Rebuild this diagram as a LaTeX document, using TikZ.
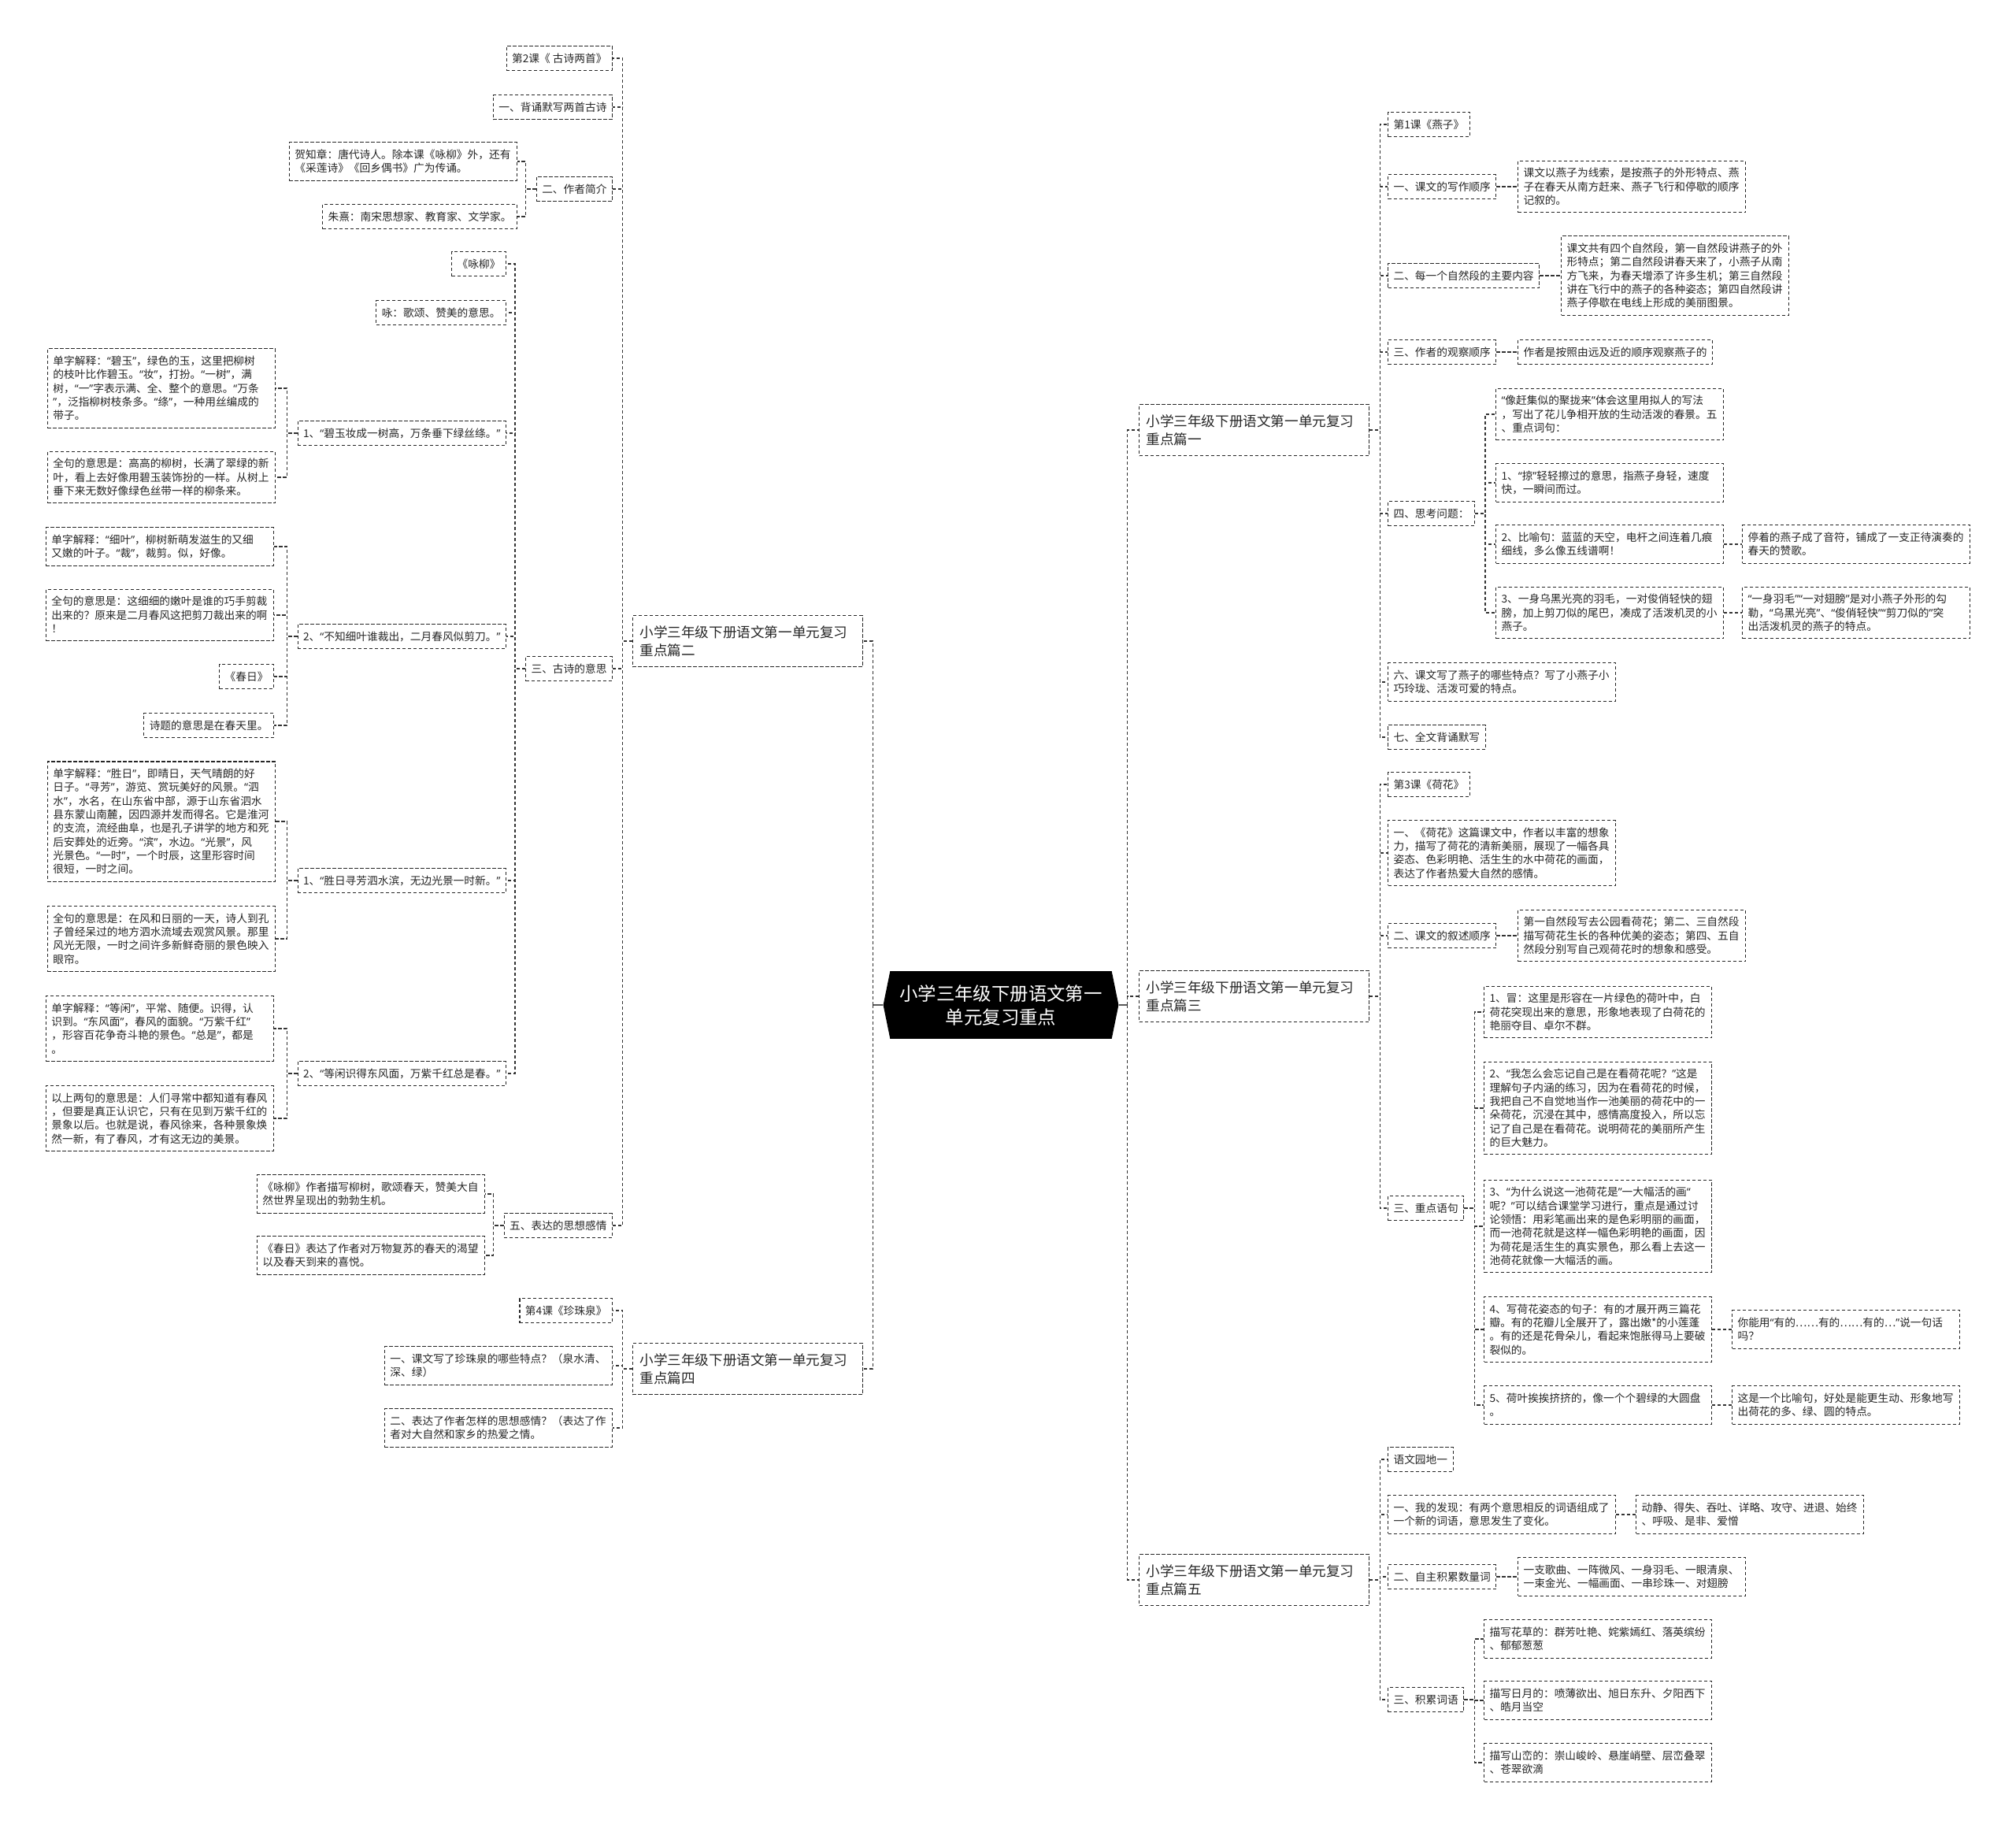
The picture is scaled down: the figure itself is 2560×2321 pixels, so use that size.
\documentclass[tikz,border=0pt]{standalone}
\usepackage{fontspec}
\newfontfamily\cjk{Noto Sans CJK SC}
\newfontfamily\latq{Noto Sans}
\usetikzlibrary{shapes.symbols}
\newcommand\ql{{\latq “}}
\newcommand\qr{{\latq ”}}
\newcommand\lsu{\rule[-3.45pt]{0pt}{17.3pt}}
\newcommand\hsu{\rule[-4.9pt]{0pt}{23.2pt}}

\begin{document}
\begin{tikzpicture}[x=1pt, y=-1pt,
  box/.style={draw=black!85, line width=1.1pt, dash pattern=on 4.3pt off 2.7pt, text=black!85},
  leaf/.style={box, inner xsep=7pt, inner ysep=6.85pt, font=\cjk\fontsize{13.7pt}{17.3pt}\selectfont, execute at begin node=\lsu, execute at end node=\lsu},
  wrap/.style={leaf, text width=275pt, align=left},
  head/.style={box, text width=274pt, align=left, inner xsep=9pt, inner ysep=9.3pt, font=\cjk\fontsize{17.6pt}{23.2pt}\selectfont, execute at begin node=\hsu, execute at end node=\hsu},
  hub/.style={signal, signal to=west and east, signal pointer angle=157, fill=black, text=white, align=center, inner xsep=12pt, inner ysep=17pt, font=\cjk\fontsize{23.4pt}{30pt}\selectfont},
  link/.style={draw=black!80, line width=1.1pt, dash pattern=on 4.3pt off 2.7pt},
  hublink/.style={draw=black!65, line width=2pt}]
  \fill[white] (0,0) rectangle (2560,2321);
  \useasboundingbox (0,0) rectangle (2560,2321);

  \node[hub] (root) at (1271,1276) {小学三年级下册语文第一\\单元复习重点};

  \node[head, anchor=east] (p2) at (1096,814) {小学三年级下册语文第一单元复习\\重点篇二};
  \node[head, anchor=east] (p4) at (1096,1738) {小学三年级下册语文第一单元复习\\重点篇四};
  \node[head, anchor=west] (p1) at (1446,546) {小学三年级下册语文第一单元复习\\重点篇一};
  \node[head, anchor=west] (p3) at (1446,1265) {小学三年级下册语文第一单元复习\\重点篇三};
  \node[head, anchor=west] (p5) at (1446,2006) {小学三年级下册语文第一单元复习\\重点篇五};

  % 篇二
  \node[leaf, anchor=east] (k2) at (778,74) {第2课《 古诗两首》};
  \node[leaf, anchor=east] (k2a) at (778,136) {一、背诵默写两首古诗};
  \node[leaf, anchor=east] (k2b) at (778,240) {二、作者简介};
  \node[wrap, anchor=east] (k2b1) at (657,205) {贺知章：唐代诗人。除本课《咏柳》外，还有\\《采莲诗》《回乡偶书》广为传诵。};
  \node[leaf, anchor=east] (k2b2) at (657,275) {朱熹：南宋思想家、教育家、文学家。};
  \node[leaf, anchor=east] (k2c) at (778,849) {三、古诗的意思};
  \node[leaf, anchor=east] (yl) at (643,335) {《咏柳》};
  \node[leaf, anchor=east] (yl0) at (643,397) {咏：歌颂、赞美的意思。};
  \node[leaf, anchor=east] (yl1) at (643,550) {1、\ql 碧玉妆成一树高，万条垂下绿丝绦。\qr};
  \node[wrap, anchor=east] (yl1a) at (350,493) {单字解释：\ql 碧玉\qr ，绿色的玉，这里把柳树\\的枝叶比作碧玉。\ql 妆\qr ，打扮。\ql 一树\qr ，满\\树，\ql 一\qr 字表示满、全、整个的意思。\ql 万条\\\qr ，泛指柳树枝条多。\ql 绦\qr ，一种用丝编成的\\带子。};
  \node[wrap, anchor=east] (yl1b) at (350,606) {全句的意思是：高高的柳树，长满了翠绿的新\\叶，看上去好像用碧玉装饰扮的一样。从树上\\垂下来无数好像绿色丝带一样的柳条来。};
  \node[leaf, anchor=east] (yl2) at (643,808) {2、\ql 不知细叶谁裁出，二月春风似剪刀。\qr};
  \node[wrap, anchor=east] (yl2a) at (348,694) {单字解释：\ql 细叶\qr ，柳树新萌发滋生的又细\\又嫩的叶子。\ql 裁\qr ，裁剪。似，好像。};
  \node[wrap, anchor=east] (yl2b) at (348,781) {全句的意思是：这细细的嫩叶是谁的巧手剪裁\\出来的？原来是二月春风这把剪刀裁出来的啊\\！};
  \node[leaf, anchor=east] (cr) at (348,859) {《春日》};
  \node[leaf, anchor=east] (cr0) at (348,921) {诗题的意思是在春天里。};
  \node[leaf, anchor=east] (cr1) at (643,1118) {1、\ql 胜日寻芳泗水滨，无边光景一时新。\qr};
  \node[wrap, anchor=east] (cr1a) at (350,1043) {单字解释：\ql 胜日\qr ，即晴日，天气晴朗的好\\日子。\ql 寻芳\qr ，游览、赏玩美好的风景。\ql 泗\\水\qr ，水名，在山东省中部，源于山东省泗水\\县东蒙山南麓，因四源并发而得名。它是淮河\\的支流，流经曲阜，也是孔子讲学的地方和死\\后安葬处的近旁。\ql 滨\qr ，水边。\ql 光景\qr ，风\\光景色。\ql 一时\qr ，一个时辰，这里形容时间\\很短，一时之间。};
  \node[wrap, anchor=east] (cr1b) at (350,1192) {全句的意思是：在风和日丽的一天，诗人到孔\\子曾经呆过的地方泗水流域去观赏风景。那里\\风光无限，一时之间许多新鲜奇丽的景色映入\\眼帘。};
  \node[leaf, anchor=east] (cr2) at (643,1363) {2、\ql 等闲识得东风面，万紫千红总是春。\qr};
  \node[wrap, anchor=east] (cr2a) at (348,1306) {单字解释：\ql 等闲\qr ，平常、随便。识得，认\\识到。\ql 东风面\qr ，春风的面貌。\ql 万紫千红\qr\\，形容百花争奇斗艳的景色。\ql 总是\qr ，都是\\。};
  \node[wrap, anchor=east] (cr2b) at (348,1420) {以上两句的意思是：人们寻常中都知道有春风\\，但要是真正认识它，只有在见到万紫千红的\\景象以后。也就是说，春风徐来，各种景象焕\\然一新，有了春风，才有这无边的美景。};
  \node[leaf, anchor=east] (k2e) at (778,1556) {五、表达的思想感情};
  \node[wrap, anchor=east] (k2e1) at (616,1516) {《咏柳》作者描写柳树，歌颂春天，赞美大自\\然世界呈现出的勃勃生机。};
  \node[wrap, anchor=east] (k2e2) at (616,1594) {《春日》表达了作者对万物复苏的春天的渴望\\以及春天到来的喜悦。};

  % 篇四
  \node[leaf, anchor=east] (k4) at (778,1664) {第4课《珍珠泉》};
  \node[wrap, anchor=east] (k4a) at (778,1734) {一、课文写了珍珠泉的哪些特点？（泉水清、\\深、绿）};
  \node[wrap, anchor=east] (k4b) at (778,1813) {二、表达了作者怎样的思想感情？（表达了作\\者对大自然和家乡的热爱之情。};

  % 篇一
  \node[leaf, anchor=west] (k1) at (1762,158) {第1课《燕子》};
  \node[leaf, anchor=west] (k1a) at (1762,237) {一、课文的写作顺序};
  \node[wrap, anchor=west] (k1a1) at (1927,237) {课文以燕子为线索，是按燕子的外形特点、燕\\子在春天从南方赶来、燕子飞行和停歇的顺序\\记叙的。};
  \node[leaf, anchor=west] (k1b) at (1762,350) {二、每一个自然段的主要内容};
  \node[wrap, anchor=west] (k1b1) at (1982,350) {课文共有四个自然段，第一自然段讲燕子的外\\形特点；第二自然段讲春天来了，小燕子从南\\方飞来，为春天增添了许多生机；第三自然段\\讲在飞行中的燕子的各种姿态；第四自然段讲\\燕子停歇在电线上形成的美丽图景。};
  \node[leaf, anchor=west] (k1c) at (1762,447) {三、作者的观察顺序};
  \node[leaf, anchor=west] (k1c1) at (1927,447) {作者是按照由远及近的顺序观察燕子的};
  \node[leaf, anchor=west] (k1d) at (1762,652) {四、思考问题：};
  \node[wrap, anchor=west] (k1d1) at (1899,526) {\ql 像赶集似的聚拢来\qr 体会这里用拟人的写法\\，写出了花儿争相开放的生动活泼的春景。五\\、重点词句：};
  \node[wrap, anchor=west] (k1d2) at (1899,613) {1、\ql 掠\qr 轻轻擦过的意思，指燕子身轻，速度\\快，一瞬间而过。};
  \node[wrap, anchor=west] (k1d3) at (1899,691) {2、比喻句：蓝蓝的天空，电杆之间连着几痕\\细线，多么像五线谱啊！};
  \node[wrap, anchor=west] (k1d3a) at (2212,691) {停着的燕子成了音符，铺成了一支正待演奏的\\春天的赞歌。};
  \node[wrap, anchor=west] (k1d4) at (1899,778) {3、一身乌黑光亮的羽毛，一对俊俏轻快的翅\\膀，加上剪刀似的尾巴，凑成了活泼机灵的小\\燕子。};
  \node[wrap, anchor=west] (k1d4a) at (2212,778) {\ql 一身羽毛\qr\ql 一对翅膀\qr 是对小燕子外形的勾\\勒，\ql 乌黑光亮\qr 、\ql 俊俏轻快\qr\ql 剪刀似的\qr 突\\出活泼机灵的燕子的特点。};
  \node[wrap, anchor=west] (k1f) at (1762,866) {六、课文写了燕子的哪些特点？写了小燕子小\\巧玲珑、活泼可爱的特点。};
  \node[leaf, anchor=west] (k1g) at (1762,936) {七、全文背诵默写};

  % 篇三
  \node[leaf, anchor=west] (k3) at (1762,996) {第3课《荷花》};
  \node[wrap, anchor=west] (k3a) at (1762,1083) {一、《荷花》这篇课文中，作者以丰富的想象\\力，描写了荷花的清新美丽，展现了一幅各具\\姿态、色彩明艳、活生生的水中荷花的画面，\\表达了作者热爱大自然的感情。};
  \node[leaf, anchor=west] (k3b) at (1762,1188) {二、课文的叙述顺序};
  \node[wrap, anchor=west] (k3b1) at (1927,1188) {第一自然段写去公园看荷花；第二、三自然段\\描写荷花生长的各种优美的姿态；第四、五自\\然段分别写自己观荷花时的想象和感受。};
  \node[leaf, anchor=west] (k3c) at (1762,1534) {三、重点语句};
  \node[wrap, anchor=west] (k3c1) at (1884,1285) {1、冒：这里是形容在一片绿色的荷叶中，白\\荷花突现出来的意思，形象地表现了白荷花的\\艳丽夺目、卓尔不群。};
  \node[wrap, anchor=west] (k3c2) at (1884,1407) {2、\ql 我怎么会忘记自己是在看荷花呢？\qr 这是\\理解句子内涵的练习，因为在看荷花的时候，\\我把自己不自觉地当作一池美丽的荷花中的一\\朵荷花，沉浸在其中，感情高度投入，所以忘\\记了自己是在看荷花。说明荷花的美丽所产生\\的巨大魅力。};
  \node[wrap, anchor=west] (k3c3) at (1884,1557) {3、\ql 为什么说这一池荷花是\qr 一大幅活的画\ql\\呢？\qr 可以结合课堂学习进行，重点是通过讨\\论领悟：用彩笔画出来的是色彩明丽的画面，\\而一池荷花就是这样一幅色彩明艳的画面，因\\为荷花是活生生的真实景色，那么看上去这一\\池荷花就像一大幅活的画。};
  \node[wrap, anchor=west] (k3c4) at (1884,1688) {4、写荷花姿态的句子：有的才展开两三篇花\\瓣。有的花瓣儿全展开了，露出嫩*的小莲蓬\\。有的还是花骨朵儿，看起来饱胀得马上要破\\裂似的。};
  \node[wrap, anchor=west] (k3c4a) at (2199,1688) {你能用\ql 有的……有的……有的…\qr 说一句话\\吗？};
  \node[wrap, anchor=west] (k3c5) at (1884,1784) {5、荷叶挨挨挤挤的，像一个个碧绿的大圆盘\\。};
  \node[wrap, anchor=west] (k3c5a) at (2199,1784) {这是一个比喻句，好处是能更生动、形象地写\\出荷花的多、绿、圆的特点。};

  % 篇五
  \node[leaf, anchor=west] (k5) at (1762,1853) {语文园地一};
  \node[wrap, anchor=west] (k5a) at (1762,1923) {一、我的发现：有两个意思相反的词语组成了\\一个新的词语，意思发生了变化。};
  \node[wrap, anchor=west] (k5a1) at (2077,1923) {动静、得失、吞吐、详略、攻守、进退、始终\\、呼吸、是非、爱憎};
  \node[leaf, anchor=west] (k5b) at (1762,2002) {二、自主积累数量词};
  \node[wrap, anchor=west] (k5b1) at (1927,2002) {一支歌曲、一阵微风、一身羽毛、一眼清泉、\\一束金光、一幅画面、一串珍珠一、对翅膀};
  \node[leaf, anchor=west] (k5c) at (1762,2158) {三、积累词语};
  \node[wrap, anchor=west] (k5c1) at (1884,2081) {描写花草的：群芳吐艳、姹紫嫣红、落英缤纷\\、郁郁葱葱};
  \node[wrap, anchor=west] (k5c2) at (1884,2159) {描写日月的：喷薄欲出、旭日东升、夕阳西下\\、皓月当空};
  \node[wrap, anchor=west] (k5c3) at (1884,2238) {描写山峦的：崇山峻岭、悬崖峭壁、层峦叠翠\\、苍翠欲滴};

  % connectors
  \draw[hublink] (root.west) -- ++(-13,0) coordinate (hl);
  \draw[hublink] (root.east) -- ++(11,0) coordinate (hr);
  \draw[link] (hl) |- (p2.east);
  \draw[link] (hl) |- (p4.east);
  \draw[link] (hr) |- (p1.west);
  \draw[link] (hr) |- (p3.west);
  \draw[link] (hr) |- (p5.west);

  \draw[link] (p2.west) -- ++(-12,0) |- (k2.east);
  \draw[link] (p2.west) -- ++(-12,0) |- (k2a.east);
  \draw[link] (p2.west) -- ++(-12,0) |- (k2b.east);
  \draw[link] (p2.west) -- ++(-12,0) |- (k2c.east);
  \draw[link] (p2.west) -- ++(-12,0) |- (k2e.east);
  \draw[link] (k2b.west) -- ++(-13,0) |- (k2b1.east);
  \draw[link] (k2b.west) -- ++(-13,0) |- (k2b2.east);
  \draw[link] (k2c.west) -- ++(-13,0) |- (yl.east);
  \draw[link] (k2c.west) -- ++(-13,0) |- (yl0.east);
  \draw[link] (k2c.west) -- ++(-13,0) |- (yl1.east);
  \draw[link] (k2c.west) -- ++(-13,0) |- (yl2.east);
  \draw[link] (k2c.west) -- ++(-13,0) |- (cr1.east);
  \draw[link] (k2c.west) -- ++(-13,0) |- (cr2.east);
  \draw[link] (yl1.west) -- ++(-13,0) |- (yl1a.east);
  \draw[link] (yl1.west) -- ++(-13,0) |- (yl1b.east);
  \draw[link] (yl2.west) -- ++(-13,0) |- (yl2a.east);
  \draw[link] (yl2.west) -- ++(-13,0) |- (yl2b.east);
  \draw[link] (yl2.west) -- ++(-13,0) |- (cr.east);
  \draw[link] (yl2.west) -- ++(-13,0) |- (cr0.east);
  \draw[link] (cr1.west) -- ++(-13,0) |- (cr1a.east);
  \draw[link] (cr1.west) -- ++(-13,0) |- (cr1b.east);
  \draw[link] (cr2.west) -- ++(-13,0) |- (cr2a.east);
  \draw[link] (cr2.west) -- ++(-13,0) |- (cr2b.east);
  \draw[link] (k2e.west) -- ++(-13,0) |- (k2e1.east);
  \draw[link] (k2e.west) -- ++(-13,0) |- (k2e2.east);

  \draw[link] (p4.west) -- ++(-12,0) |- (k4.east);
  \draw[link] (p4.west) -- ++(-12,0) |- (k4a.east);
  \draw[link] (p4.west) -- ++(-12,0) |- (k4b.east);

  \draw[link] (p1.east) -- ++(13,0) |- (k1.west);
  \draw[link] (p1.east) -- ++(13,0) |- (k1a.west);
  \draw[link] (p1.east) -- ++(13,0) |- (k1b.west);
  \draw[link] (p1.east) -- ++(13,0) |- (k1c.west);
  \draw[link] (p1.east) -- ++(13,0) |- (k1d.west);
  \draw[link] (p1.east) -- ++(13,0) |- (k1f.west);
  \draw[link] (p1.east) -- ++(13,0) |- (k1g.west);
  \draw[link] (k1a.east) -- ++(13,0) |- (k1a1.west);
  \draw[link] (k1b.east) -- ++(13,0) |- (k1b1.west);
  \draw[link] (k1c.east) -- ++(13,0) |- (k1c1.west);
  \draw[link] (k1d.east) -- ++(13,0) |- (k1d1.west);
  \draw[link] (k1d.east) -- ++(13,0) |- (k1d2.west);
  \draw[link] (k1d.east) -- ++(13,0) |- (k1d3.west);
  \draw[link] (k1d.east) -- ++(13,0) |- (k1d4.west);
  \draw[link] (k1d3.east) -- ++(13,0) |- (k1d3a.west);
  \draw[link] (k1d4.east) -- ++(13,0) |- (k1d4a.west);

  \draw[link] (p3.east) -- ++(13,0) |- (k3.west);
  \draw[link] (p3.east) -- ++(13,0) |- (k3a.west);
  \draw[link] (p3.east) -- ++(13,0) |- (k3b.west);
  \draw[link] (p3.east) -- ++(13,0) |- (k3c.west);
  \draw[link] (k3b.east) -- ++(13,0) |- (k3b1.west);
  \draw[link] (k3c.east) -- ++(13,0) |- (k3c1.west);
  \draw[link] (k3c.east) -- ++(13,0) |- (k3c2.west);
  \draw[link] (k3c.east) -- ++(13,0) |- (k3c3.west);
  \draw[link] (k3c.east) -- ++(13,0) |- (k3c4.west);
  \draw[link] (k3c.east) -- ++(13,0) |- (k3c5.west);
  \draw[link] (k3c4.east) -- ++(13,0) |- (k3c4a.west);
  \draw[link] (k3c5.east) -- ++(13,0) |- (k3c5a.west);

  \draw[link] (p5.east) -- ++(13,0) |- (k5.west);
  \draw[link] (p5.east) -- ++(13,0) |- (k5a.west);
  \draw[link] (p5.east) -- ++(13,0) |- (k5b.west);
  \draw[link] (p5.east) -- ++(13,0) |- (k5c.west);
  \draw[link] (k5a.east) -- ++(13,0) |- (k5a1.west);
  \draw[link] (k5b.east) -- ++(13,0) |- (k5b1.west);
  \draw[link] (k5c.east) -- ++(13,0) |- (k5c1.west);
  \draw[link] (k5c.east) -- ++(13,0) |- (k5c2.west);
  \draw[link] (k5c.east) -- ++(13,0) |- (k5c3.west);
\end{tikzpicture}
\end{document}
